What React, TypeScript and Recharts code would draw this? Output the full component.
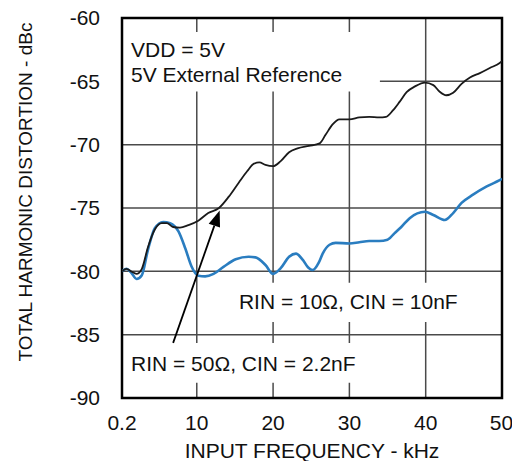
import {
  CartesianGrid,
  Line,
  LineChart,
  ReferenceArea,
  ReferenceLine,
  XAxis,
  YAxis,
} from "recharts";

// RIN = 50Ω, CIN = 2.2nF (black trace)
const rin50Freq = [
  0.2, 0.8, 1.4, 2.1, 2.8, 3.6, 4.5, 5.4, 6.1, 6.9, 7.8, 8.9, 10.2, 11.5, 12.9,
  14.2, 15.5, 16.6, 17.5, 18.2, 19.0, 20.0, 21.0, 22.1, 23.2, 24.7, 26.1, 26.9,
  27.8, 28.7, 30.0, 31.3, 32.6, 33.9, 34.8, 35.7, 36.6, 37.5, 38.6, 39.9, 41.0,
  41.8, 42.7, 43.6, 44.7, 45.8, 47.1, 48.4, 49.7, 50.0,
];
const rin50Thd = [
  -80.0, -79.8, -80.0, -80.2, -79.8, -78.1, -76.7, -76.2, -76.2, -76.5, -76.55,
  -76.35, -76.0, -75.4, -75.0, -74.1, -73.0, -72.1, -71.5, -71.4, -71.6, -71.7,
  -71.3, -70.6, -70.3, -70.1, -69.9, -69.2, -68.4, -68.0, -68.0, -67.85, -67.8,
  -67.85, -67.8, -67.3, -66.6, -65.85, -65.4, -65.1, -65.3, -65.8, -66.1, -65.9,
  -65.2, -64.7, -64.35, -63.95, -63.55, -63.4,
];

// RIN = 10Ω, CIN = 10nF (blue trace)
const rin10Freq = [
  0.2, 0.8, 1.4, 2.1, 2.8, 3.6, 4.5, 5.6, 6.5, 7.6, 8.5, 9.3, 10.2, 11.1, 12.2,
  13.5, 15.1, 16.8, 17.7, 19.0, 20.0, 21.0, 22.1, 23.0, 23.9, 24.6, 25.2, 26.0,
  26.5, 27.4, 28.2, 30.0, 31.3, 32.6, 33.9, 35.0, 35.9, 36.8, 37.9, 39.9, 41.0,
  42.5, 43.6, 44.7, 46.2, 48.0, 49.7, 50.0,
];
const rin10Thd = [
  -80.0, -79.8, -80.1, -80.6, -80.3, -78.3, -76.6, -76.1, -76.2, -76.85, -78.2,
  -79.6, -80.35, -80.4, -80.2, -79.65, -79.05, -78.85, -78.9, -79.5, -80.2,
  -79.75, -78.85, -78.6, -79.1, -79.7, -79.9, -79.3, -78.6, -77.9, -77.75, -77.8,
  -77.7, -77.6, -77.6, -77.5, -77.0, -76.5, -75.8, -75.3, -75.55, -75.95, -75.4,
  -74.6, -73.95, -73.3, -72.8, -72.7,
];

const xTicks = [0.2, 10, 20, 30, 40, 50];
const yTicks = [-90, -85, -80, -75, -70, -65, -60];

const rin50 = rin50Freq.map((f, i) => ({ f, thd: rin50Thd[i] }));
const rin10 = rin10Freq.map((f, i) => ({ f, thd: rin10Thd[i] }));

const FONT = "'Liberation Sans', Arial, Helvetica, sans-serif";
const textStyle = { fontFamily: FONT, fontSize: 21, fill: "#111" };

function renderArrow(p: any) {
  const { x1, y1, x2, y2 } = p;
  const ang = Math.atan2(y2 - y1, x2 - x1);
  const len = 16;
  const half = 6;
  const bx = x2 - len * Math.cos(ang);
  const by = y2 - len * Math.sin(ang);
  const pts = [
    [x2, y2],
    [bx + half * Math.sin(ang), by - half * Math.cos(ang)],
    [bx - half * Math.sin(ang), by + half * Math.cos(ang)],
  ]
    .map((q) => q.join(","))
    .join(" ");
  return (
    <g>
      <line x1={x1} y1={y1} x2={bx} y2={by} stroke="#000" strokeWidth={1.8} />
      <polygon points={pts} fill="#000" />
    </g>
  );
}

function boxText(lines: string[], dx: number, firstDy: number, step = 25) {
  return (props: any) => {
    const vb = props.viewBox || {};
    return (
      <g>
        {lines.map((t, i) => (
          <text key={t} x={vb.x + dx} y={vb.y + firstDy + i * step} style={textStyle}>
            {t}
          </text>
        ))}
      </g>
    );
  };
}

function YTitle() {
  return (
    <text
      x={32}
      y={192}
      transform="rotate(-90, 32, 192)"
      textAnchor="middle"
      style={{ fontFamily: FONT, fontSize: 19, fill: "#111" }}
    >
      TOTAL HARMONIC DISTORTION - dBc
    </text>
  );
}

export default function App() {
  return (
    <div style={{ position: "absolute", left: 0, top: 0, background: "#fff" }}>
      <LineChart
        width={512}
        height={461}
        margin={{ top: 18, right: 10, left: 0, bottom: 0 }}
      >
        <CartesianGrid stroke="#4a4a4a" strokeWidth={1.5} />
        <XAxis
          type="number"
          dataKey="f"
          domain={[0.2, 50]}
          ticks={xTicks}
          allowDataOverflow
          height={63}
          tickLine={false}
          axisLine={false}
          tickMargin={11}
          tick={textStyle}
          label={{
            value: "INPUT FREQUENCY - kHz",
            position: "insideBottom",
            offset: 3,
            style: textStyle,
          }}
        />
        <YAxis
          type="number"
          domain={[-90, -60]}
          ticks={yTicks}
          width={122}
          tickLine={false}
          axisLine={false}
          tickMargin={16}
          tick={textStyle}
          label={<YTitle />}
        />
        {/* white panels behind the annotation text */}
        <ReferenceArea
          x1={0.2}
          x2={34}
          y1={-65.8}
          y2={-61.1}
          fill="#fff"
          fillOpacity={1}
          stroke="none"
          label={boxText(["VDD = 5V", "5V External Reference"], 9, 25)}
        />
        <ReferenceArea
          x1={14.6}
          x2={45.8}
          y1={-84.0}
          y2={-80.9}
          fill="#fff"
          fillOpacity={1}
          stroke="none"
          label={boxText(["RIN = 10Ω, CIN = 10nF"], 7, 26)}
        />
        <ReferenceArea
          x1={0.2}
          x2={32}
          y1={-88.8}
          y2={-85.65}
          fill="#fff"
          fillOpacity={1}
          stroke="none"
          label={boxText(["RIN = 50Ω, CIN = 2.2nF"], 9, 28)}
        />
        <Line
          data={rin10}
          dataKey="thd"
          type="monotone"
          stroke="#2a7dc0"
          strokeWidth={2.6}
          dot={false}
          isAnimationActive={false}
        />
        <Line
          data={rin50}
          dataKey="thd"
          type="monotone"
          stroke="#1a1a1a"
          strokeWidth={1.8}
          dot={false}
          isAnimationActive={false}
        />
        <ReferenceLine
          segment={[
            { x: 6.9, y: -85.65 },
            { x: 13.0, y: -75.2 },
          ]}
          shape={renderArrow}
        />
        <ReferenceArea
          x1={0.2}
          x2={50}
          y1={-90}
          y2={-60}
          fill="none"
          stroke="#000"
          strokeWidth={2.5}
        />
      </LineChart>
    </div>
  );
}
